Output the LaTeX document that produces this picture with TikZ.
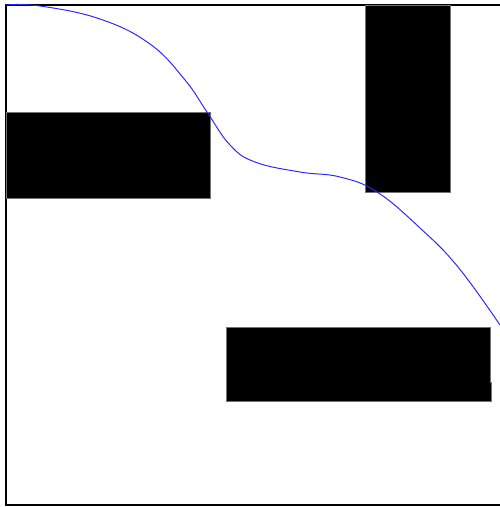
\documentclass[tikz,border=0pt]{standalone}
\usepackage{tikz}
\usetikzlibrary{calc}

\begin{document}
\begin{tikzpicture}[
  x={(0.02cm,0)}, y={(0,-0.02cm)},
  frame/.style={draw=black, line width=0.6pt},
  obstacle/.style={fill=black, draw=black!55, line width=0.5pt},
  route/.style={draw=blue!85, line width=0.55pt, smooth, tension=0.7}
]
\useasboundingbox (0,0) rectangle (500,507);

% map border
\draw[frame] (500,5) -- (6,5) -- (6,505) -- (500,505);

% obstacles
\filldraw[obstacle] (6,112) rectangle (210,198);
\filldraw[obstacle] (365,5) rectangle (450,192);
\filldraw[obstacle] (226,327) -- (490,327) -- (490,382) -- (491,382)
  -- (491,401) -- (226,401) -- cycle;

% planned path
\draw[route] plot coordinates {(6,5) (40,6) (100,19) (150,44) (185,80)
  (207,112) (230,145) (255,162) (300,172) (340,177) (377,192) (420,228)
  (458,267) (500,325)};
\end{tikzpicture}
\end{document}
